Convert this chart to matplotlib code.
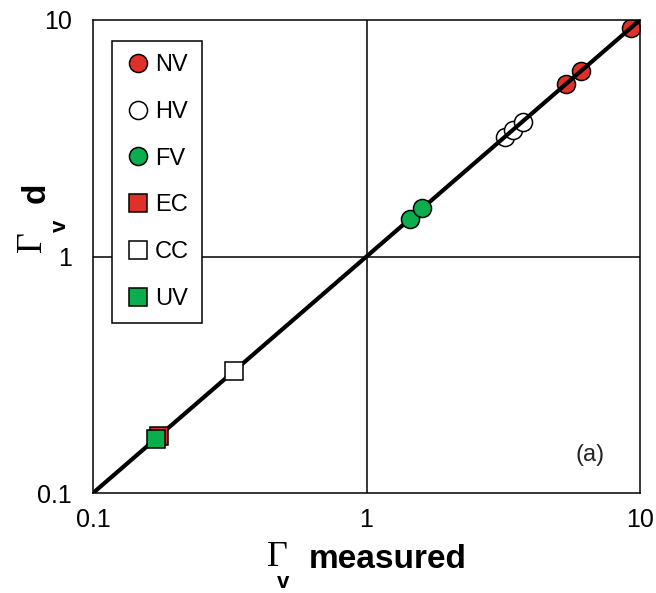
import matplotlib.pyplot as plt
from matplotlib.ticker import NullLocator, FixedLocator, FixedFormatter

plt.rcParams['font.family'] = ['Liberation Sans', 'DejaVu Sans']

# measured vs. calculated values for each group
nv_x = [5.36, 6.1, 9.25]
nv_y = [5.36, 6.1, 9.25]
hv_x = [3.2, 3.42, 3.72]
hv_y = [3.2, 3.42, 3.72]
fv_x = [1.44, 1.6]
fv_y = [1.44, 1.6]
ec_x = [0.174]
ec_y = [0.174]
cc_x = [0.327]
cc_y = [0.327]
uv_x = [0.17]
uv_y = [0.17]

ticks = [0.1, 1, 10]
tick_labels = ['0.1', '1', '10']

red = '#e0302a'
green = '#0aae4c'

fig = plt.figure(figsize=(6.56, 5.93), dpi=100)
ax = fig.add_axes([0.1418, 0.1686, 0.8338, 0.7977])
ax.set_xscale('log')
ax.set_yscale('log')
ax.set_xlim(0.1, 10)
ax.set_ylim(0.1, 10)

ms = 13
ax.plot(nv_x, nv_y, 'o', ms=ms, mfc=red, mec='black', mew=1.1, zorder=2, label='NV')
ax.plot(hv_x, hv_y, 'o', ms=ms, mfc='white', mec='black', mew=1.1, zorder=2, label='HV')
ax.plot([0.1, 10], [0.1, 10], color='black', lw=3, zorder=3)
ax.plot(fv_x, fv_y, 'o', ms=ms, mfc=green, mec='black', mew=1.1, zorder=4, label='FV')
ax.plot(ec_x, ec_y, 's', ms=ms, mfc=red, mec='black', mew=1.1, zorder=4, label='EC')
ax.plot(cc_x, cc_y, 's', ms=ms, mfc='white', mec='black', mew=1.1, zorder=4, label='CC')
ax.plot(uv_x, uv_y, 's', ms=ms, mfc=green, mec='black', mew=1.1, zorder=4, label='UV')

ax.axvline(1, color='black', lw=1.1, zorder=1)
ax.axhline(1, color='black', lw=1.1, zorder=1)

for a in (ax.xaxis, ax.yaxis):
    a.set_major_locator(FixedLocator(ticks))
    a.set_major_formatter(FixedFormatter(tick_labels))
    a.set_minor_locator(NullLocator())
ax.tick_params(length=0, labelsize=18)
ax.tick_params(axis='x', pad=11)
ax.tick_params(axis='y', pad=15)
for s in ax.spines.values():
    s.set_linewidth(1.1)

leg = ax.legend(loc='upper left', bbox_to_anchor=(0.0347, 0.9556), borderaxespad=0,
                fontsize=17, labelspacing=1.05, handletextpad=0.17, handlelength=1.1,
                fancybox=False, framealpha=1, edgecolor='black', borderpad=0.55)
leg.get_frame().set_linewidth(1.1)

ax.text(590 / 656, 1 - 455 / 593, '(a)', transform=fig.transFigure, fontsize=17,
        ha='center', va='center', color='#222222')

# axis labels built from pieces
fig.text(277 / 656, 1 - 557 / 593, '\u0393', family='Liberation Serif', fontsize=26,
         ha='center', va='center')
fig.text(283 / 656, 1 - 582 / 593, 'v', fontsize=16, weight='bold', ha='center', va='center')
fig.text(388 / 656, 1 - 560 / 593, 'measured', fontsize=24, weight='bold',
         ha='center', va='center')

fig.text(32 / 656, 1 - 242 / 593, '\u0393', family='Liberation Serif', fontsize=26,
         ha='center', va='center', rotation=90)
fig.text(60 / 656, 1 - 226 / 593, 'v', fontsize=16, weight='bold', ha='center',
         va='center', rotation=90)
fig.text(36 / 656, 1 - 193 / 593, 'd', fontsize=24, weight='bold', ha='center',
         va='center', rotation=90)

fig.savefig('out.png', dpi=100)
